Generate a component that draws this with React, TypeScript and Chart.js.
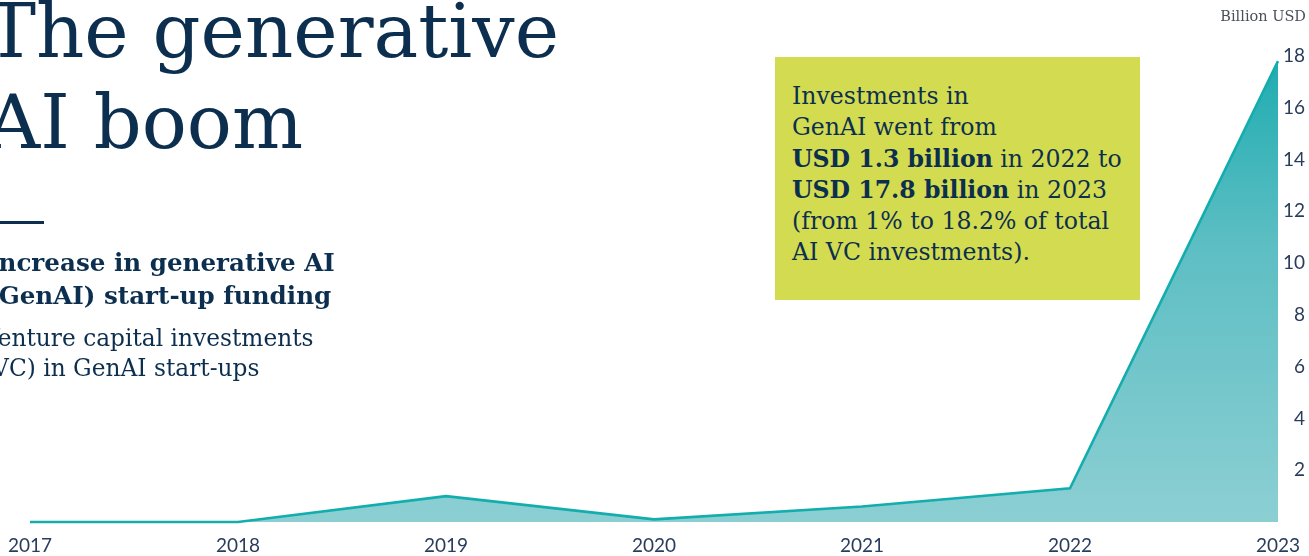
import React, { useEffect, useRef } from 'react';
import { Chart, registerables } from 'chart.js';

Chart.register(...registerables);

const years: string[] = ['2017', '2018', '2019', '2020', '2021', '2022', '2023'];
const vcBillions: number[] = [0, 0, 1.0, 0.1, 0.6, 1.3, 17.8];
const yMax = 18;
const yStep = 2;
const unitLabel = 'Billion USD';
const titleLines: string[] = ['The generative', 'AI boom'];
const subtitleBold: string[] = ['Increase in generative AI', '(GenAI) start-up funding'];
const subtitleRegular: string[] = ['Venture capital investments', '(VC) in GenAI start-ups'];

const NAVY = '#0d2f4f';
const SERIF = '"DejaVu Serif", "Liberation Serif", serif';
const SANS = 'Lato, "Noto Sans", sans-serif';

export default function App() {
  const canvasRef = useRef<HTMLCanvasElement | null>(null);

  useEffect(() => {
    document.body.style.margin = '0';
    const canvas = canvasRef.current;
    if (!canvas) return;
    const chart = new Chart(canvas, {
      type: 'line',
      data: {
        labels: years,
        datasets: [
          {
            data: vcBillions,
            borderColor: '#14adad',
            borderWidth: 2.6,
            pointRadius: 0,
            pointHoverRadius: 0,
            pointBorderWidth: 0,
            pointHitRadius: 0,
            tension: 0,
            clip: false,
            fill: 'origin',
            backgroundColor: (ctx: any) => {
              const area = ctx.chart.chartArea;
              if (!area) return 'rgba(120,200,205,0.8)';
              const g = ctx.chart.ctx.createLinearGradient(0, area.top, 0, area.bottom);
              g.addColorStop(0, '#1eacb0');
              g.addColorStop(0.4, '#5cbec3');
              g.addColorStop(1, '#8ccfd3');
              return g;
            },
          },
        ],
      },
      options: {
        responsive: false,
        animation: false,
        events: [],
        layout: { padding: { left: 30, top: 56, right: 4, bottom: 0 } },
        plugins: { legend: { display: false }, tooltip: { enabled: false }, title: { display: false } },
        scales: {
          x: {
            type: 'category',
            offset: false,
            grid: { display: false, drawTicks: false },
            border: { display: false },
            ticks: {
              color: '#2a3c5c',
              font: { family: SANS, size: 19 },
              padding: 12,
              maxRotation: 0,
              autoSkip: false,
            },
            afterFit: (scale: any) => {
              scale.height = 34;
              scale.paddingLeft = 0;
              scale.paddingRight = 0;
            },
          },
          y: {
            position: 'right',
            min: 0,
            max: yMax,
            grid: { display: false, drawTicks: false },
            border: { display: false },
            ticks: {
              stepSize: yStep,
              color: '#2a3c5c',
              font: { family: SANS, size: 19 },
              padding: 2,
              crossAlign: 'far',
              callback: (v: any) => (Number(v) === 0 ? '' : String(v)),
            },
            afterFit: (scale: any) => {
              scale.width = 27;
              scale.paddingTop = 0;
              scale.paddingBottom = 0;
            },
          },
        },
      },
    });
    return () => chart.destroy();
  }, []);

  return (
    <div
      style={{
        position: 'absolute',
        left: 0,
        top: 0,
        width: 1309,
        height: 556,
        overflow: 'hidden',
        background: '#ffffff',
      }}
    >
      <canvas ref={canvasRef} width={1309} height={556} style={{ position: 'absolute', left: 0, top: 0 }} />
      <div
        style={{
          position: 'absolute',
          left: -14,
          top: -14,
          fontFamily: SERIF,
          fontSize: 75,
          lineHeight: '91px',
          color: NAVY,
          whiteSpace: 'nowrap',
          letterSpacing: 0,
        }}
      >
        {titleLines.map((l) => (
          <div key={l}>{l}</div>
        ))}
      </div>
      <div style={{ position: 'absolute', left: 0, top: 221, width: 44, height: 3, background: NAVY }} />
      <div
        style={{
          position: 'absolute',
          left: -13,
          top: 246,
          fontFamily: SERIF,
          fontWeight: 'bold',
          fontSize: 24.6,
          lineHeight: '33px',
          color: NAVY,
          whiteSpace: 'nowrap',
        }}
      >
        {subtitleBold.map((l) => (
          <div key={l}>{l}</div>
        ))}
      </div>
      <div
        style={{
          position: 'absolute',
          left: -17,
          top: 323,
          fontFamily: SERIF,
          fontSize: 23.3,
          lineHeight: '30px',
          color: NAVY,
          whiteSpace: 'nowrap',
        }}
      >
        {subtitleRegular.map((l) => (
          <div key={l}>{l}</div>
        ))}
      </div>
      <div
        style={{
          position: 'absolute',
          left: 775,
          top: 57,
          width: 365,
          height: 243,
          background: '#d3dc50',
          boxSizing: 'border-box',
          padding: '24px 0 0 17px',
          fontFamily: SERIF,
          fontSize: 23.6,
          lineHeight: '31.3px',
          color: NAVY,
          whiteSpace: 'nowrap',
        }}
      >
        <div>Investments in</div>
        <div>GenAI went from</div>
        <div>
          <b>USD 1.3 billion</b> in 2022 to
        </div>
        <div>
          <b>USD 17.8 billion</b> in 2023
        </div>
        <div>(from 1% to 18.2% of total</div>
        <div>AI VC investments).</div>
      </div>
      <div
        style={{
          position: 'absolute',
          right: 3,
          top: 8,
          fontFamily: SERIF,
          fontSize: 14.5,
          color: '#4a4f5a',
          whiteSpace: 'nowrap',
        }}
      >
        {unitLabel}
      </div>
    </div>
  );
}
